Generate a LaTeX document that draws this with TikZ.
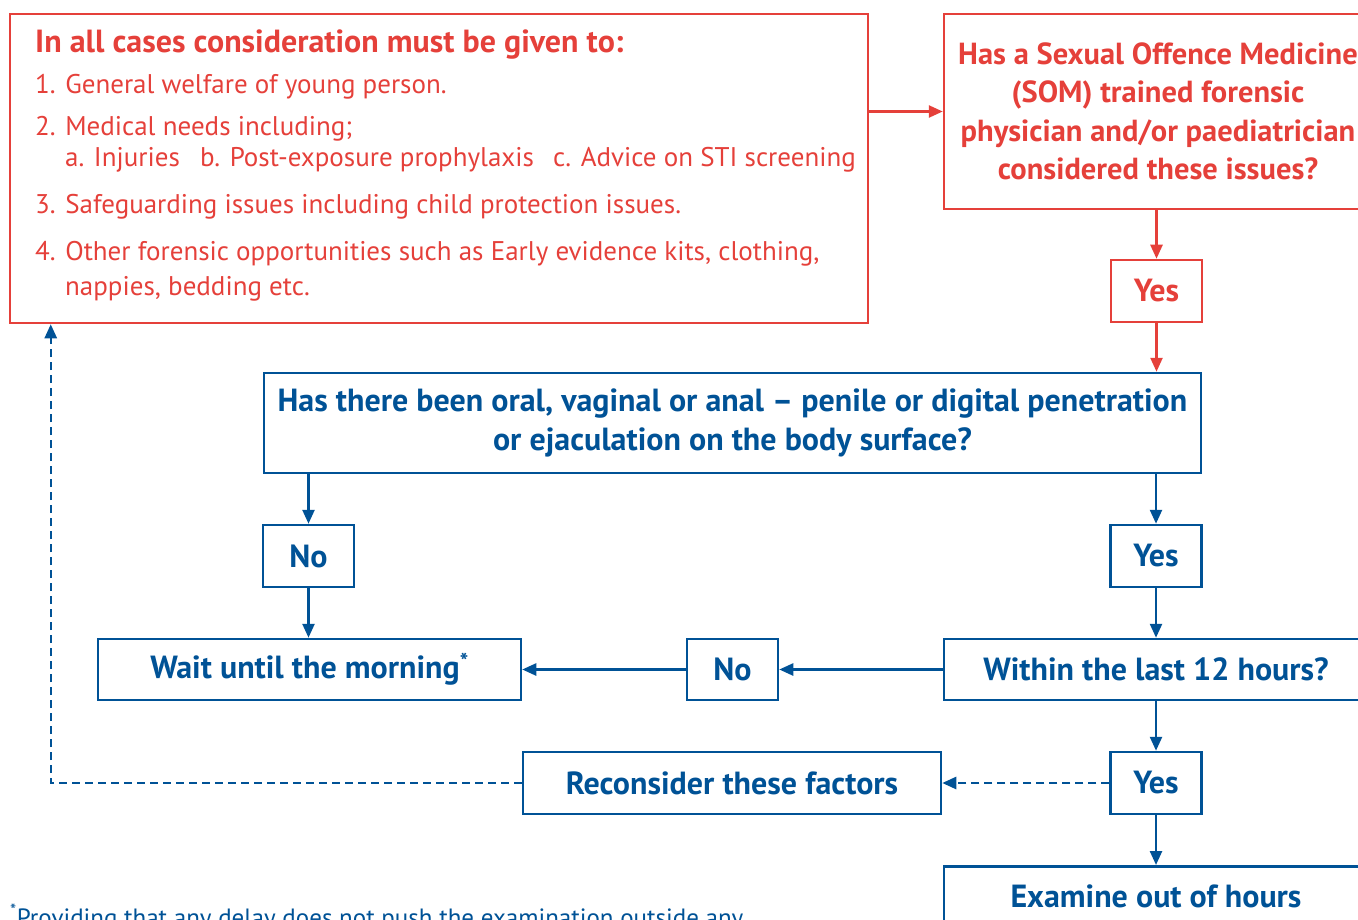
\documentclass[tikz,border=0pt]{standalone}
\usepackage{fontspec}
\setmainfont{PT Sans}
\usetikzlibrary{arrows.meta,positioning}
\definecolor{somred}{RGB}{229,64,58}
\definecolor{somblue}{RGB}{0,82,150}

\begin{document}
\begin{tikzpicture}[x=1pt, y=-1pt,
    box/.style={draw, line width=2.5pt, inner sep=0pt, align=center, font=\fontsize{32}{38.5}\selectfont\bfseries},
    redbox/.style={box, draw=somred, text=somred},
    bluebox/.style={box, draw=somblue, text=somblue},
    answer/.style={minimum width=91pt, minimum height=62pt},
    itemline/.style={anchor=base west, inner sep=0pt, text=somred, font=\fontsize{27}{30}\selectfont},
    arrow/.style={-{Triangle[length=14pt,width=12pt]}, line width=2.5pt},
    redarrow/.style={arrow, draw=somred},
    bluearrow/.style={arrow, draw=somblue},
    backarrow/.style={bluearrow, dash pattern=on 8pt off 5pt}
  ]
  \useasboundingbox (0,0) rectangle (1358,920);
  \clip (0,0) rectangle (1358,920);

  % red part
  \node[redbox, minimum width=858pt, minimum height=309pt] (cases) at (439,168.5) {};
  \node[itemline, font=\fontsize{32}{34}\selectfont\bfseries] (title) at (35,53) {In all cases consideration must be given to:};
  \node[itemline] (item1) at (35,94) {1. General welfare of young person.};
  \node[itemline] (item2) at (35,136) {2. Medical needs including;};
  \node[itemline] (sub1) at (65,167) {a. Injuries};
  \node[itemline] (sub2) at (200,167) {b. Post-exposure prophylaxis};
  \node[itemline] (sub3) at (553,167) {c. Advice on STI screening};
  \node[itemline] (item3) at (35,214) {3. Safeguarding issues including child protection issues.};
  \node[itemline] (item4) at (35,261) {4. Other forensic opportunities such as Early evidence kits, clothing,};
  \node[itemline] (item4b) at (65,295) {nappies, bedding etc.};

  \node[redbox, minimum width=428pt, minimum height=195pt, font=\fontsize{30.5}{38.5}\selectfont\bfseries] (som) at (1158,111.5)
    {Has a Sexual Offence Medicine\\(SOM) trained forensic\\physician and/or paediatrician\\considered these issues?};
  \node[redbox, answer] (yesA) at (1156.5,291) {Yes};

  % blue part
  \node[bluebox, minimum width=937pt, minimum height=100pt] (quest) at (732.5,423)
    {Has there been oral, vaginal or anal -- penile or digital penetration\\or ejaculation on the body surface?};
  \node[bluebox, answer] (noA) at (308.5,556) {No};
  \node[bluebox, answer] (yesB) at (1156,556) {Yes};
  \node[bluebox, minimum width=423pt, minimum height=61pt] (wait) at (309.5,669.5) {Wait until the morning\textsuperscript{*}};
  \node[bluebox, answer, minimum height=61pt] (noB) at (732.5,669.5) {No};
  \node[bluebox, minimum width=424pt, minimum height=61pt] (within) at (1156,669.5) {Within the last 12 hours?};
  \node[bluebox, answer] (yesC) at (1156,783) {Yes};
  \node[bluebox, minimum width=418pt, minimum height=62pt] (recon) at (732,783) {Reconsider these factors};
  \node[bluebox, anchor=north, minimum width=424pt, minimum height=60pt] (examine) at (1156,865) {Examine out of hours};

  \node[anchor=base west, inner sep=0pt, text=somblue, font=\fontsize{25}{28}\selectfont] (note) at (10,926)
    {\textsuperscript{*}Providing that any delay does not push the examination outside any};

  % connectors
  \draw[redarrow] (cases.east |- som.west) -- (som.west);
  \draw[redarrow] (yesA |- som.south) -- (yesA);
  \draw[redarrow] (yesA) -- (yesA |- quest.north);
  \draw[bluearrow] (noA |- quest.south) -- (noA);
  \draw[bluearrow] (yesB |- quest.south) -- (yesB);
  \draw[bluearrow] (noA) -- (noA |- wait.north);
  \draw[bluearrow] (yesB) -- (yesB |- within.north);
  \draw[bluearrow] (within) -- (noB);
  \draw[bluearrow] (noB) -- (wait);
  \draw[bluearrow] (yesC |- within.south) -- (yesC);
  \draw[backarrow] (yesC) -- (recon);
  \draw[backarrow] (recon.west) -| ([xshift=42pt]cases.south west);
  \draw[bluearrow] (yesC) -- (yesC |- examine.north);
\end{tikzpicture}
\end{document}
